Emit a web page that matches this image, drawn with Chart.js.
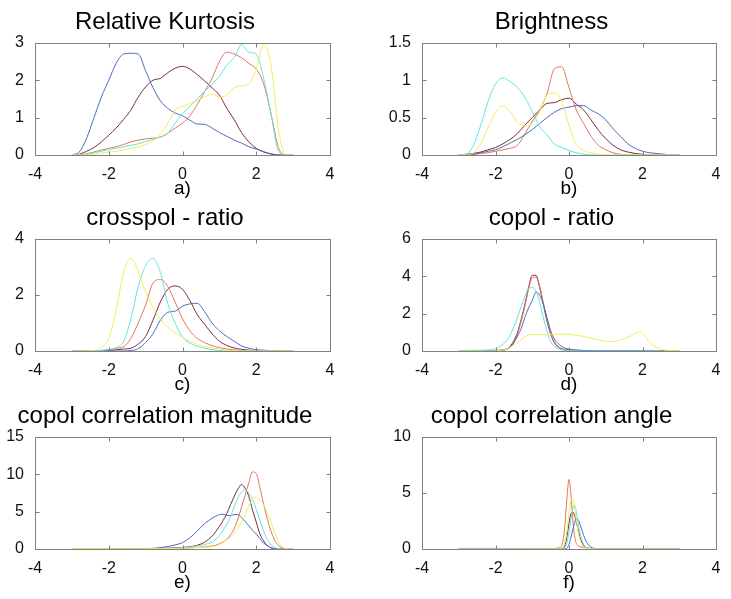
<!DOCTYPE html>
<html>
<head>
<meta charset="utf-8">
<script src="https://cdn.jsdelivr.net/npm/chart.js@4"></script>
<style>
  body { margin: 0; background: #fff; }
  #wrap { position: relative; width: 731px; height: 599px; }
  canvas { position: absolute; }
</style>
</head>
<body>
<div id="wrap">
  <canvas id="kurt" width="345" height="200" style="left:0;top:0"></canvas>
  <canvas id="bright" width="344" height="200" style="left:387px;top:0"></canvas>
  <canvas id="cross" width="345" height="200" style="left:0;top:196px"></canvas>
  <canvas id="copol" width="344" height="200" style="left:387px;top:196px"></canvas>
  <canvas id="magn" width="345" height="200" style="left:0;top:394px"></canvas>
  <canvas id="angle" width="344" height="200" style="left:387px;top:394px"></canvas>
</div>
<script>
// x positions
const xsFine = [-3.0,-2.8,-2.6,-2.4,-2.2,-2.0,-1.8,-1.6,-1.4,-1.2,-1.0,-0.8,-0.6,-0.4,-0.2,0.0,0.2,0.4,0.6,0.8,1.0,1.2,1.4,1.6,1.8,2.0,2.2,2.4,2.6,2.8,3.0];
const xsCopol = [-3.0,-2.6,-2.2,-2.0,-1.8,-1.7,-1.6,-1.5,-1.4,-1.3,-1.2,-1.1,-1.0,-0.9,-0.8,-0.7,-0.6,-0.5,-0.4,-0.3,-0.2,-0.1,0.0,0.2,0.4,0.6,0.8,1.0,1.2,1.4,1.6,1.8,1.9,2.0,2.1,2.2,2.4,2.6,2.8,3.0];
const xsMagn = [-3.0,-2.5,-2.0,-1.5,-1.0,-0.5,-0.2,0.0,0.2,0.4,0.6,0.8,0.9,1.0,1.1,1.2,1.3,1.4,1.5,1.6,1.7,1.8,1.9,2.0,2.1,2.2,2.3,2.4,2.5,2.6,2.7,2.8,3.0];
const xsAngle = [-3.0,-2.0,-1.0,-0.5,-0.4,-0.3,-0.25,-0.2,-0.15,-0.1,-0.05,0.0,0.05,0.1,0.15,0.2,0.25,0.3,0.35,0.4,0.45,0.5,0.6,0.7,0.8,1.0,2.0,3.0];

// a) Relative Kurtosis
const kurtBlue   = [0,0.08,0.45,1.0,1.55,2.0,2.45,2.7,2.72,2.7,2.25,1.8,1.45,1.25,1.12,1.05,0.93,0.83,0.82,0.72,0.6,0.5,0.4,0.32,0.22,0.16,0.09,0.03,0,0,0];
const kurtMaroon = [0,0.02,0.1,0.2,0.35,0.53,0.72,0.95,1.2,1.55,1.82,2.0,2.05,2.2,2.32,2.37,2.3,2.15,1.98,1.8,1.6,1.25,0.95,0.6,0.35,0.18,0.08,0.03,0,0,0];
const kurtRed    = [0,0,0.03,0.08,0.13,0.18,0.22,0.28,0.35,0.4,0.43,0.45,0.48,0.58,0.72,0.85,1.05,1.35,1.7,2.05,2.5,2.75,2.7,2.6,2.45,2.3,1.9,1.1,0.2,0,0];
const kurtCyan   = [0,0,0.02,0.06,0.1,0.14,0.18,0.22,0.26,0.3,0.36,0.42,0.48,0.58,0.85,1.1,1.3,1.5,1.7,1.9,2.1,2.4,2.6,2.95,2.75,2.7,2.05,1.1,0.1,0,0];
const kurtYellow = [0,0,0,0.02,0.05,0.08,0.1,0.13,0.17,0.22,0.28,0.38,0.55,0.85,1.2,1.3,1.38,1.45,1.55,1.62,1.55,1.6,1.8,1.85,1.9,2.3,2.95,2.4,0.7,0,0];

// b) Brightness
const brightCyan   = [0,0.01,0.13,0.4,0.72,0.95,1.03,0.98,0.9,0.77,0.58,0.38,0.27,0.15,0.1,0.06,0.03,0.01,0,0,0,0,0,0,0,0,0,0,0,0,0];
const brightYellow = [0,0,0.03,0.15,0.37,0.57,0.66,0.58,0.43,0.39,0.42,0.58,0.8,0.83,0.72,0.4,0.14,0.06,0.03,0.01,0,0,0,0,0,0,0,0,0,0,0];
const brightRed    = [0,0,0.01,0.02,0.03,0.05,0.07,0.09,0.13,0.28,0.45,0.6,0.82,1.15,1.18,0.9,0.6,0.42,0.25,0.13,0.07,0.03,0.01,0,0,0,0,0,0,0,0];
const brightMaroon = [0,0.01,0.02,0.04,0.07,0.1,0.15,0.21,0.29,0.4,0.5,0.6,0.69,0.7,0.74,0.76,0.68,0.6,0.47,0.33,0.22,0.13,0.07,0.04,0.02,0.01,0,0,0,0,0];
const brightBlue   = [0,0,0.01,0.03,0.05,0.07,0.11,0.16,0.21,0.27,0.34,0.42,0.5,0.57,0.62,0.64,0.66,0.66,0.6,0.55,0.47,0.35,0.25,0.15,0.09,0.05,0.03,0.02,0.01,0,0];

// c) crosspol - ratio
const crossYellow = [0,0,0,0.02,0.12,0.45,1.45,2.8,3.3,2.85,2.1,1.55,1.15,0.85,0.65,0.48,0.35,0.24,0.16,0.1,0.06,0.03,0.01,0,0,0,0,0,0,0,0];
const crossCyan   = [0,0,0,0.01,0.02,0.05,0.12,0.33,1.15,2.3,3.05,3.3,2.8,1.7,1.0,0.5,0.28,0.17,0.1,0.05,0.02,0,0,0,0,0,0,0,0,0,0];
const crossRed    = [0,0,0,0.01,0.02,0.05,0.1,0.15,0.45,1.0,1.65,2.42,2.55,2.3,1.75,1.15,0.72,0.45,0.3,0.19,0.12,0.07,0.04,0.02,0.01,0,0,0,0,0,0];
const crossMaroon = [0,0,0,0,0.01,0.02,0.04,0.07,0.1,0.25,0.52,1.1,1.75,2.2,2.32,2.2,1.8,1.3,0.95,0.62,0.35,0.2,0.11,0.06,0.03,0.01,0,0,0,0,0];
const crossBlue   = [0,0,0,0,0,0,0,0,0.02,0.08,0.3,0.62,1.1,1.38,1.42,1.6,1.68,1.7,1.4,1.0,0.72,0.52,0.35,0.18,0.1,0.05,0.03,0.01,0,0,0];

// d) copol - ratio
const copolMaroon = [0,0,0.01,0.02,0.05,0.1,0.25,0.55,1.0,1.7,2.5,3.4,4.05,4.05,3.4,2.5,1.6,0.9,0.45,0.22,0.12,0.08,0.05,0.03,0.02,0.01,0,0,0,0,0,0,0,0,0,0,0,0,0,0];
const copolRed    = [0,0,0.01,0.02,0.04,0.08,0.2,0.45,0.9,1.6,2.4,3.3,3.9,3.95,3.5,2.6,1.7,0.95,0.5,0.25,0.12,0.06,0.03,0.02,0.01,0,0,0,0,0,0,0,0,0,0,0,0,0,0,0];
const copolCyan   = [0.03,0.04,0.06,0.12,0.35,0.55,0.85,1.3,1.8,2.4,2.9,3.35,3.4,3.2,2.6,1.8,1.05,0.5,0.25,0.12,0.06,0.03,0.02,0.01,0,0,0,0,0,0,0,0,0,0,0,0,0,0,0,0];
const copolBlue   = [0,0.01,0.02,0.03,0.06,0.1,0.2,0.45,0.8,1.2,1.8,2.3,2.7,3.15,3.0,2.5,1.8,1.1,0.65,0.4,0.25,0.15,0.1,0.06,0.03,0.02,0.01,0.01,0.01,0.01,0.01,0.01,0.01,0.01,0,0,0,0,0,0];
const copolYellow = [0,0,0,0.01,0.05,0.1,0.2,0.32,0.45,0.6,0.75,0.85,0.88,0.88,0.87,0.86,0.87,0.89,0.9,0.9,0.9,0.89,0.88,0.84,0.78,0.68,0.6,0.52,0.5,0.6,0.72,0.95,1.03,0.95,0.7,0.45,0.18,0.06,0.02,0];

// e) copol correlation magnitude
const magnBlue   = [0.05,0.05,0.05,0.05,0.05,0.25,0.55,0.85,1.5,2.4,3.4,4.1,4.4,4.6,4.65,4.5,4.45,4.6,4.6,4.2,3.7,3.1,2.5,2.0,1.4,0.8,0.45,0.15,0.05,0,0,0,0];
const magnMaroon = [0,0,0,0,0.02,0.1,0.15,0.2,0.3,0.5,0.9,1.7,2.3,3.0,3.8,4.7,5.9,7.0,8.0,8.6,8.1,7.0,5.2,3.6,2.0,1.1,0.45,0.15,0.05,0,0,0,0];
const magnCyan   = [0,0,0,0,0,0.05,0.1,0.15,0.25,0.4,0.6,0.9,1.3,1.8,2.5,3.3,4.3,5.6,6.8,7.6,7.9,7.5,6.6,5.3,3.8,2.4,1.3,0.6,0.2,0.05,0,0,0];
const magnRed    = [0,0,0,0,0,0.02,0.05,0.1,0.15,0.2,0.3,0.4,0.5,0.7,0.95,1.3,1.9,2.7,4.0,5.6,7.2,8.9,10.3,10.1,8.2,6.0,4.0,2.4,1.2,0.5,0.15,0.03,0];
const magnYellow = [0.03,0.05,0.03,0.02,0.02,0.05,0.08,0.1,0.15,0.2,0.25,0.3,0.4,0.6,0.9,1.2,1.6,2.1,2.8,3.6,4.6,5.8,6.6,6.9,6.6,5.9,4.8,3.6,2.2,1.0,0.3,0.05,0];

// f) copol correlation angle
const angleRed    = [0,0,0,0,0.02,0.1,0.15,0.3,1.0,2.6,4.8,6.2,5.0,2.8,1.2,0.5,0.3,0.2,0.15,0.12,0.1,0.08,0.06,0.04,0.02,0,0,0];
const angleYellow = [0,0,0,0,0,0,0.05,0.1,0.3,0.8,1.8,3.2,4.3,4.5,3.8,2.6,1.5,0.8,0.4,0.2,0.1,0.05,0.02,0,0,0,0,0];
const angleCyan   = [0,0,0,0,0,0,0,0.05,0.1,0.2,0.6,1.5,2.6,3.5,3.9,3.3,2.3,1.4,0.8,0.4,0.2,0.1,0.03,0,0,0,0,0];
const angleMaroon = [0,0,0,0,0,0,0.02,0.05,0.1,0.4,1.2,2.3,3.1,3.3,3.0,2.4,1.7,1.1,0.6,0.3,0.15,0.08,0.03,0.01,0,0,0,0];
const angleBlue   = [0.05,0.05,0.03,0,0,0,0,0,0,0.02,0.1,0.4,1.0,1.7,2.3,2.65,2.6,2.2,1.7,1.2,0.8,0.5,0.15,0.05,0.02,0.01,0.03,0.03];

const BLUE = '#4d6bc4', MAROON = '#7b2c3c', RED = '#e0785c', CYAN = '#66e3e3', YELLOW = '#f0ee5a';

Chart.defaults.font.family = '"Liberation Sans", Arial, sans-serif';
Chart.defaults.color = '#111';

// matlab style box with inward ticks
const matlabBox = {
  id: 'matlabBox',
  afterDraw(chart) {
    const {ctx, chartArea: a, scales: {x, y}} = chart;
    const l = Math.round(a.left) + 0.5, r = Math.round(a.right) + 0.5;
    const t = Math.round(a.top) + 0.5, b = Math.round(a.bottom) + 0.5;
    ctx.save();
    ctx.strokeStyle = '#808080';
    ctx.lineWidth = 1;
    ctx.strokeRect(l, t, r - l, b - t);
    ctx.beginPath();
    x.ticks.forEach(tk => {
      const px = Math.round(x.getPixelForValue(tk.value)) + 0.5;
      ctx.moveTo(px, b); ctx.lineTo(px, b - 4);
      ctx.moveTo(px, t); ctx.lineTo(px, t + 4);
    });
    y.ticks.forEach(tk => {
      const py = Math.round(y.getPixelForValue(tk.value)) + 0.5;
      ctx.moveTo(l, py); ctx.lineTo(l + 4, py);
      ctx.moveTo(r, py); ctx.lineTo(r - 4, py);
    });
    ctx.stroke();
    ctx.restore();
  }
};

function showPanel(id, title, letter, xs, series, yMax, yStep) {
  new Chart(document.getElementById(id), {
    type: 'line',
    data: {
      datasets: series.map(([ys, color]) => ({
        data: xs.map((x, i) => ({x: x, y: ys[i]})),
        borderColor: color,
        borderWidth: 1,
        pointRadius: 0,
        fill: false,
        cubicInterpolationMode: 'monotone'
      }))
    },
    options: {
      responsive: false,
      animation: false,
      devicePixelRatio: 1,
      layout: { padding: { left: 0, right: 15, top: 0, bottom: 0 } },
      plugins: {
        legend: { display: false },
        tooltip: { enabled: false },
        title: {
          display: true,
          text: title,
          color: '#000',
          font: { size: 24, weight: 'normal' },
          padding: { top: 8, bottom: 6 }
        }
      },
      scales: {
        x: {
          type: 'linear',
          min: -4,
          max: 4,
          grid: { display: false },
          border: { display: false },
          ticks: { stepSize: 2, padding: 2, font: { size: 16 }, maxRotation: 0, callback: (v) => String(v) },
          title: { display: true, text: letter, color: '#000', font: { size: 19 }, padding: { top: 0, bottom: 0 } },
          afterFit: (scale) => { scale.height = 45; }
        },
        y: {
          min: 0,
          max: yMax,
          grid: { display: false },
          border: { display: false },
          ticks: { stepSize: yStep, padding: 3, font: { size: 16 }, callback: (v) => String(v) },
          afterFit: (scale) => { scale.width = 35; }
        }
      }
    },
    plugins: [matlabBox]
  });
}

showPanel('kurt', 'Relative Kurtosis', 'a)', xsFine,
  [[kurtYellow, YELLOW], [kurtCyan, CYAN], [kurtBlue, BLUE], [kurtRed, RED], [kurtMaroon, MAROON]], 3, 1);
showPanel('bright', 'Brightness', 'b)', xsFine,
  [[brightYellow, YELLOW], [brightCyan, CYAN], [brightBlue, BLUE], [brightRed, RED], [brightMaroon, MAROON]], 1.5, 0.5);
showPanel('cross', 'crosspol - ratio', 'c)', xsFine,
  [[crossYellow, YELLOW], [crossCyan, CYAN], [crossBlue, BLUE], [crossRed, RED], [crossMaroon, MAROON]], 4, 2);
showPanel('copol', 'copol - ratio', 'd)', xsCopol,
  [[copolYellow, YELLOW], [copolCyan, CYAN], [copolBlue, BLUE], [copolRed, RED], [copolMaroon, MAROON]], 6, 2);
showPanel('magn', 'copol correlation magnitude', 'e)', xsMagn,
  [[magnYellow, YELLOW], [magnCyan, CYAN], [magnBlue, BLUE], [magnRed, RED], [magnMaroon, MAROON]], 15, 5);
showPanel('angle', 'copol correlation angle', 'f)', xsAngle,
  [[angleYellow, YELLOW], [angleCyan, CYAN], [angleBlue, BLUE], [angleRed, RED], [angleMaroon, MAROON]], 10, 5);
</script>
</body>
</html>
